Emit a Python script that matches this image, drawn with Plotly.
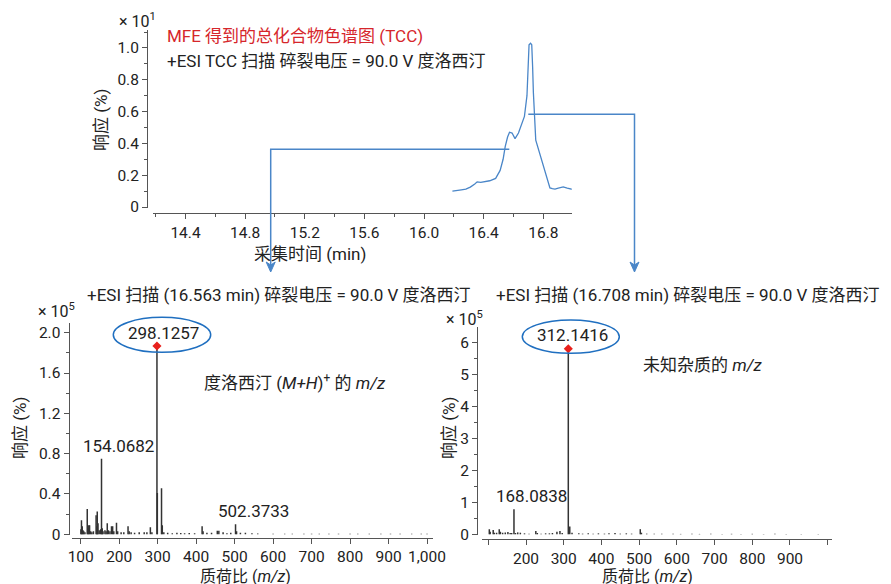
import plotly.graph_objects as go

W, H = 891, 584
FONT = "Roboto, 'Noto Sans CJK SC', sans-serif"
FS = 17          # text size
TFS = 15.5       # tick label size

# ---------------- data ----------------
tcc_time = [16.19, 16.22, 16.25, 16.28, 16.31, 16.34, 16.356, 16.38, 16.41, 16.44, 16.48, 16.51,
            16.53, 16.544, 16.56, 16.573, 16.59, 16.61, 16.633, 16.656, 16.673, 16.69, 16.697,
            16.704, 16.714, 16.722, 16.728, 16.733, 16.749, 16.765, 16.778, 16.80, 16.822,
            16.844, 16.86, 16.878, 16.90, 16.933, 16.96, 17.0]
tcc_resp = [0.100, 0.102, 0.108, 0.112, 0.125, 0.145, 0.158, 0.155, 0.162, 0.165, 0.180, 0.23,
            0.30, 0.38, 0.44, 0.47, 0.465, 0.43, 0.465, 0.53, 0.57, 0.70, 0.85,
            1.02, 1.03, 1.02, 0.88, 0.72, 0.42, 0.37, 0.33, 0.27, 0.19,
            0.12, 0.115, 0.113, 0.118, 0.126, 0.118, 0.110]

left_mz = [100.5, 102, 104, 106, 108, 111, 117, 119, 121, 123, 126, 129, 133, 140, 142, 143, 145,
           148, 152, 154.0682, 156, 158, 163, 166, 169, 172, 176, 180, 183, 186, 193, 196, 205,
           212, 223, 226, 231, 240, 252, 265, 272, 281, 285, 298.1257, 299.13, 310, 312, 316,
           326, 338, 350, 360, 370, 382, 396, 415.5, 418, 428, 440, 455, 459, 470, 480, 490,
           502.3733, 505, 515, 528, 545, 560, 600, 630, 650, 680, 700, 720, 745, 770, 800, 820,
           850, 880, 905, 930, 960, 985, 1000]
left_int = [0.05, 0.14, 0.08, 0.04, 0.03, 0.02, 0.25, 0.06, 0.09, 0.09, 0.03, 0.02, 0.03, 0.19,
            0.08, 0.225, 0.11, 0.04, 0.05, 0.75, 0.06, 0.03, 0.04, 0.03, 0.11, 0.04, 0.03, 0.08,
            0.08, 0.03, 0.115, 0.03, 0.02, 0.02, 0.08, 0.03, 0.02, 0.015, 0.02, 0.02, 0.02, 0.07,
            0.02, 1.868, 0.41, 0.456, 0.09, 0.02, 0.015, 0.01, 0.015, 0.012, 0.01, 0.012, 0.01,
            0.08, 0.03, 0.015, 0.015, 0.035, 0.035, 0.02, 0.01, 0.015, 0.10, 0.03, 0.015, 0.015,
            0.01, 0.008, 0.006, 0.005, 0.006, 0.005, 0.006, 0.005, 0.006, 0.005, 0.006, 0.005,
            0.006, 0.005, 0.006, 0.005, 0.006, 0.005, 0.005]

right_mz = [102.7, 105, 113, 116, 122, 129, 132, 138, 145, 152, 158, 162, 168.0838, 172, 178, 185,
            196, 208, 226, 230, 240, 252, 262, 270, 282, 290, 296, 312.1416, 316, 322, 340, 350,
            365, 378, 392, 408, 420, 436, 450, 466, 480, 503, 506, 520, 540, 560, 590, 610, 640,
            660, 690, 720, 745, 770, 800, 830, 860, 890, 930, 975]
right_int = [0.16, 0.08, 0.135, 0.05, 0.05, 0.16, 0.08, 0.05, 0.06, 0.07, 0.04, 0.04, 0.78, 0.04,
             0.06, 0.05, 0.03, 0.02, 0.10, 0.04, 0.02, 0.03, 0.03, 0.04, 0.08, 0.10, 0.04, 5.80,
             0.24, 0.05, 0.03, 0.02, 0.03, 0.02, 0.03, 0.02, 0.03, 0.04, 0.02, 0.03, 0.02, 0.16,
             0.05, 0.02, 0.015, 0.015, 0.015, 0.012, 0.015, 0.012, 0.015, 0.012, 0.015, 0.012,
             0.015, 0.012, 0.015, 0.012, 0.012, 0.012]

left_peak = (298.1257, 1.868)
right_peak = (312.1416, 5.80)

top_x_ticks = [14.4, 14.8, 15.2, 15.6, 16.0, 16.4, 16.8]
top_y_ticks = [0, 0.2, 0.4, 0.6, 0.8, 1.0]
top_y_text = ["0", "0.2", "0.4", "0.6", "0.8", "1.0"]
left_x_ticks = [100, 200, 300, 400, 500, 600, 700, 800, 900, 1000]
left_x_text = ["100", "200", "300", "400", "500", "600", "700", "800", "900", "1,000"]
left_y_ticks = [0, 0.4, 0.8, 1.2, 1.6, 2.0]
left_y_text = ["0", "0.4", "0.8", "1.2", "1.6", "2.0"]
right_x_ticks = [200, 300, 400, 500, 600, 700, 800, 900]
right_y_ticks = [0, 1, 2, 3, 4, 5, 6]


# ---------------- helpers ----------------
def px(x):
    return x / W


def py(y):
    return 1 - y / H


def sticks(mz, inten):
    xs, ys = [], []
    for m, v in zip(mz, inten):
        xs += [m, m, None]
        ys += [0, v, None]
    return xs, ys


BLUE = "#4a86c8"
DARK = "#333333"
AX = "#555555"

fig = go.Figure()

fig.add_trace(go.Scatter(x=tcc_time, y=tcc_resp, mode="lines",
                         line=dict(color=BLUE, width=1.3), xaxis="x", yaxis="y",
                         hoverinfo="skip"))

lx, ly = sticks(left_mz, left_int)
fig.add_trace(go.Scatter(x=lx, y=ly, mode="lines", line=dict(color=DARK, width=1.5),
                         xaxis="x2", yaxis="y2", hoverinfo="skip"))
rx, ry = sticks(right_mz, right_int)
fig.add_trace(go.Scatter(x=rx, y=ry, mode="lines", line=dict(color=DARK, width=1.5),
                         xaxis="x3", yaxis="y3", hoverinfo="skip"))

fig.add_trace(go.Scatter(x=[left_peak[0]], y=[left_peak[1]], mode="markers",
                         marker=dict(symbol="diamond", color="#e8201c", size=7),
                         xaxis="x2", yaxis="y2", hoverinfo="skip"))
fig.add_trace(go.Scatter(x=[right_peak[0]], y=[right_peak[1]], mode="markers",
                         marker=dict(symbol="diamond", color="#e8201c", size=7),
                         xaxis="x3", yaxis="y3", hoverinfo="skip"))

tickfont = dict(family=FONT, size=TFS, color="#222")
common = dict(showline=True, linecolor=AX, linewidth=1, ticks="outside", tickcolor=AX,
              ticklen=5, tickfont=tickfont, showgrid=False, zeroline=False, fixedrange=True,
              automargin=False, tickangle=0)

fig.update_layout(
    template="none",
    width=W, height=H, margin=dict(l=0, r=0, t=0, b=0, pad=0, autoexpand=False),
    paper_bgcolor="white", plot_bgcolor="rgba(0,0,0,0)", showlegend=False,
    font=dict(family=FONT, size=FS, color="#222"),
    xaxis=dict(domain=[px(152.7), px(571.7)], anchor="free", position=py(213),
               range=[14.18, 16.99], tickvals=top_x_ticks,
               ticktext=[f"{v:.1f}" for v in top_x_ticks],
               minor=dict(tick0=14.2, dtick=0.2, ticks="outside", ticklen=3, tickcolor=AX),
               **common),
    yaxis=dict(domain=[py(208), py(30)], anchor="free", position=px(147),
               range=[-0.0063, 1.113], tickvals=top_y_ticks, ticktext=top_y_text,
               minor=dict(tick0=0, dtick=0.1, ticks="outside", ticklen=3, tickcolor=AX),
               **common),
    xaxis2=dict(domain=[px(71.7), px(433)], anchor="free", position=py(537.7),
                range=[76.6, 1015.5], tickvals=left_x_ticks, ticktext=left_x_text, **common),
    yaxis2=dict(domain=[py(535), py(323)], anchor="free", position=px(68.5),
                range=[-0.007, 2.096], tickvals=left_y_ticks, ticktext=left_y_text,
                minor=dict(tick0=0, dtick=0.2, ticks="outside", ticklen=3, tickcolor=AX),
                **common),
    xaxis3=dict(domain=[px(481.7), px(831.7)], anchor="free", position=py(539),
                range=[82.5, 1010.6], tickvals=right_x_ticks,
                ticktext=[str(v) for v in right_x_ticks],
                minor=dict(tick0=0, dtick=100, ticks="outside", ticklen=5, tickcolor=AX),
                **common),
    yaxis3=dict(domain=[py(535), py(326.7)], anchor="free", position=px(477),
                range=[-0.022, 6.4875], tickvals=right_y_ticks,
                ticktext=[str(v) for v in right_y_ticks],
                minor=dict(tick0=0, dtick=0.5, ticks="outside", ticklen=3, tickcolor=AX),
                **common),
)


def txt(x, y, s, xanchor="left", color="#222", size=FS, angle=0):
    fig.add_annotation(x=px(x), y=py(y), xref="paper", yref="paper", text=s, showarrow=False,
                       xanchor=xanchor, yanchor="middle", textangle=angle,
                       xshift=-2 if xanchor == "left" else 0,
                       font=dict(family=FONT, size=size, color=color))


# top chart texts
txt(119, 20, "× 10<sup>1</sup>", size=16)
txt(167, 36, "MFE 得到的总化合物色谱图 (TCC)", color="#d6262b")
txt(167, 61, "+ESI TCC 扫描 碎裂电压 = 90.0 V 度洛西汀")
txt(101, 120, "响应 (%)", xanchor="center", angle=-90)
txt(310, 254, "采集时间 (min)", xanchor="center")

# bottom left texts
txt(87, 295, "+ESI 扫描 (16.563 min) 碎裂电压 = 90.0 V 度洛西汀")
txt(38, 310, "× 10<sup>5</sup>", size=16)
txt(20, 428, "响应 (%)", xanchor="center", angle=-90)
txt(245, 576.5, "质荷比 (<i>m/z</i>)", xanchor="center", size=16)
txt(163.3, 333, "298.1257", xanchor="center")
txt(118.3, 446, "154.0682", xanchor="center")
txt(253.3, 511, "502.3733", xanchor="center")
txt(204, 382, "度洛西汀 (<i>M+H</i>)<sup>+</sup> 的 <i>m/z</i>")

# bottom right texts
txt(496.3, 295, "+ESI 扫描 (16.708 min) 碎裂电压 = 90.0 V 度洛西汀")
txt(446, 318, "× 10<sup>5</sup>", size=16)
txt(449, 428, "响应 (%)", xanchor="center", angle=-90)
txt(647, 576.5, "质荷比 (<i>m/z</i>)", xanchor="center", size=16)
txt(572.3, 335, "312.1416", xanchor="center")
txt(531.7, 496, "168.0838", xanchor="center")
txt(643, 365, "未知杂质的 <i>m/z</i>")

# ellipses
ELL = "#1f6fc0"
for (x0, y0, x1, y1) in [(113.3, 317.3, 210.7, 352.3), (522.3, 320, 619.3, 353.3)]:
    fig.add_shape(type="circle", xref="paper", yref="paper", x0=px(x0), x1=px(x1),
                  y0=py(y1), y1=py(y0), line=dict(color=ELL, width=1.5))

# callout lines with arrowheads
fig.add_shape(type="path", xref="paper", yref="paper",
              path=f"M {px(509.3)} {py(149.3)} L {px(270.7)} {py(149.3)} L {px(270.7)} {py(265)}",
              line=dict(color=BLUE, width=1.5))
fig.add_shape(type="path", xref="paper", yref="paper",
              path=f"M {px(528.3)} {py(114.3)} L {px(634.5)} {py(114.3)} L {px(634.5)} {py(265)}",
              line=dict(color=BLUE, width=1.5))
for xa in [270.7, 634.5]:
    fig.add_shape(type="path", xref="paper", yref="paper",
                  path=(f"M {px(xa - 4.5)} {py(262)} L {px(xa)} {py(265)} L {px(xa + 4.5)} {py(262)} "
                        f"L {px(xa)} {py(272)} Z"),
                  line=dict(color=BLUE, width=1), fillcolor=BLUE)

fig.write_html("out.html")
